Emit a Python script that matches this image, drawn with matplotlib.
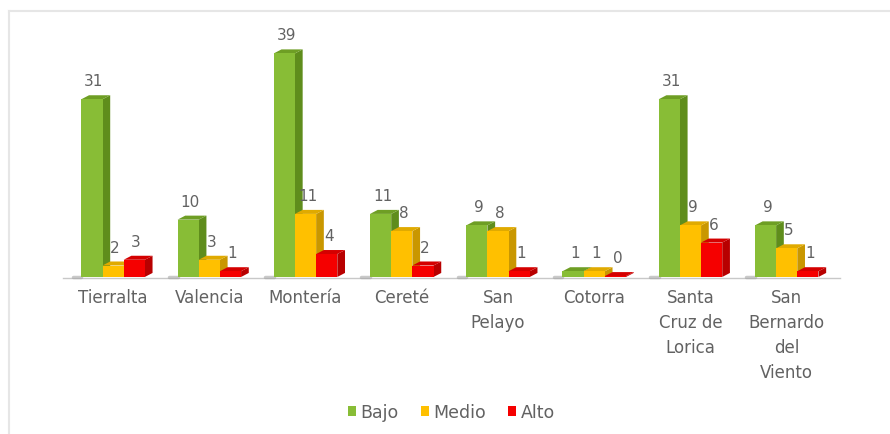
import numpy as np
import matplotlib.pyplot as plt
from matplotlib.patches import Polygon, Rectangle
from matplotlib.lines import Line2D

municipios = ["Tierralta", "Valencia", "Montería", "Cereté", "San\nPelayo",
              "Cotorra", "Santa\nCruz de\nLorica", "San\nBernardo\ndel\nViento"]
bajo = [31, 10, 39, 11, 9, 1, 31, 9]
medio = [2, 3, 11, 8, 8, 1, 9, 5]
alto = [3, 1, 4, 2, 1, 0, 6, 1]

series = [("Bajo", bajo), ("Medio", medio), ("Alto", alto)]
# front, side, top colours per series
colores = {
    "Bajo": ("#88BD36", "#5F8D1C", "#6E9E24"),
    "Medio": ("#FFC000", "#C99700", "#E0AA00"),
    "Alto": ("#F50000", "#B80000", "#D40000"),
}

plt.rcParams['font.family'] = ['DejaVu Sans']
gris = "#626262"

fig = plt.figure(figsize=(8.9, 4.35), dpi=100)
ax = fig.add_axes([0.073, 0.361, 0.865, 0.593])
ax.set_xlim(-0.5, 7.5)
ax.set_ylim(0, 45)
ax.axis("off")

ancho = 0.22
dx, dy = 0.08, 0.7   # depth of the fake 3D faces
x = np.arange(len(municipios))

# floor line with a soft shadow at the left of each group
ax.plot([-0.52, 7.55], [-0.25, -0.25], color="#C8C8C8", lw=1, clip_on=False)
for xi in x:
    ax.plot([xi - 0.42, xi - 0.33], [0.05, 0.05], color="#A6A6A6", lw=2.5,
            alpha=0.6, solid_capstyle="round", clip_on=False)

for k, (nombre, vals) in enumerate(series):
    front, side, top = colores[nombre]
    for xi, v in zip(x, vals):
        x0 = xi - 0.33 + k * ancho
        x1 = x0 + ancho
        h = max(v, 0.15)
        ax.add_patch(Polygon([(x1, 0), (x1 + dx, dy), (x1 + dx, h + dy), (x1, h)],
                             closed=True, facecolor=side, edgecolor="none", zorder=2 + k))
        ax.add_patch(Polygon([(x0, h), (x0 + dx, h + dy), (x1 + dx, h + dy), (x1, h)],
                             closed=True, facecolor=top, edgecolor="none", zorder=2 + k))
        ax.add_patch(Rectangle((x0, 0), ancho, h, facecolor=front,
                               edgecolor="none", zorder=2 + k))
        ax.annotate(str(v), (x0 + ancho / 2 + 0.02, h + dy), xytext=(0, 5),
                    textcoords="offset points", ha="center", va="bottom",
                    fontsize=11, color=gris, zorder=10)

for xi, lab in zip(x, municipios):
    ax.text(xi, -2.0, lab, ha="center", va="top", fontsize=12, color=gris,
            linespacing=1.5)

handles = [Rectangle((0, 0), 1, 1, facecolor=colores[n][0]) for n, _ in series]
fig.legend(handles, [n for n, _ in series], loc="center", bbox_to_anchor=(0.507, 0.05),
           ncol=3, frameon=False, fontsize=12.5, handlelength=0.45, handleheight=0.45,
           handletextpad=0.25, columnspacing=1.3, labelcolor=gris)

# light frame at top and left
fig.add_artist(Line2D([0.01, 1.0], [0.972, 0.972], color="#E6E6E6", lw=1.5))
fig.add_artist(Line2D([0.01, 0.01], [0.0, 0.972], color="#E6E6E6", lw=1.5))

fig.savefig("out.png", dpi=100)
